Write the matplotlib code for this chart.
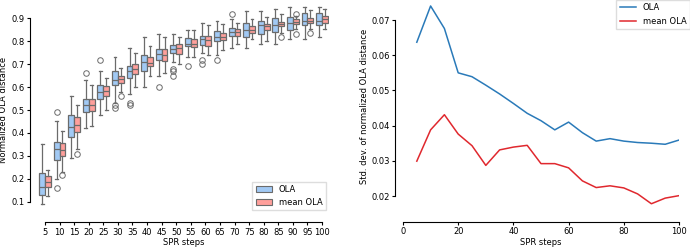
import matplotlib
matplotlib.use("Agg")
import matplotlib.pyplot as plt
import numpy as np

steps = [5, 10, 15, 20, 25, 30, 35, 40, 45, 50, 55, 60, 65, 70, 75, 80, 85, 90, 95, 100]

# box stats: (whislo, q1, med, q3, whishi)
ola_box = [
    (0.09, 0.13, 0.165, 0.225, 0.35), (0.20, 0.28, 0.33, 0.36, 0.45),
    (0.29, 0.38, 0.425, 0.48, 0.56), (0.42, 0.49, 0.52, 0.55, 0.63),
    (0.48, 0.55, 0.58, 0.61, 0.67), (0.53, 0.61, 0.63, 0.67, 0.73),
    (0.57, 0.64, 0.67, 0.69, 0.77), (0.60, 0.67, 0.71, 0.74, 0.82),
    (0.65, 0.72, 0.745, 0.765, 0.83), (0.71, 0.75, 0.765, 0.785, 0.83),
    (0.73, 0.78, 0.79, 0.815, 0.85), (0.75, 0.785, 0.81, 0.825, 0.88),
    (0.74, 0.80, 0.82, 0.845, 0.89), (0.77, 0.825, 0.84, 0.86, 0.895),
    (0.77, 0.82, 0.85, 0.88, 0.93), (0.79, 0.83, 0.87, 0.89, 0.93),
    (0.79, 0.84, 0.87, 0.90, 0.94), (0.81, 0.85, 0.88, 0.905, 0.95),
    (0.81, 0.87, 0.89, 0.925, 0.95), (0.82, 0.87, 0.89, 0.925, 0.95),
]
ola_fliers = [[], [0.49, 0.16], [], [0.66], [0.72], [0.52, 0.51], [0.53, 0.52], [],
              [0.60], [0.68, 0.67, 0.65], [0.69], [0.72, 0.70], [0.72], [0.92],
              [], [], [], [], [], []]
mean_box = [
    (0.125, 0.165, 0.185, 0.21, 0.24), (0.23, 0.30, 0.325, 0.355, 0.41),
    (0.33, 0.405, 0.435, 0.47, 0.52), (0.43, 0.495, 0.52, 0.55, 0.61),
    (0.50, 0.56, 0.585, 0.605, 0.64), (0.58, 0.62, 0.635, 0.65, 0.685),
    (0.60, 0.655, 0.68, 0.70, 0.75), (0.65, 0.69, 0.705, 0.73, 0.78),
    (0.66, 0.715, 0.74, 0.765, 0.82), (0.70, 0.745, 0.77, 0.79, 0.82),
    (0.73, 0.775, 0.79, 0.81, 0.85), (0.74, 0.78, 0.805, 0.825, 0.87),
    (0.76, 0.805, 0.82, 0.835, 0.875), (0.79, 0.825, 0.84, 0.855, 0.88),
    (0.81, 0.835, 0.85, 0.865, 0.895), (0.80, 0.85, 0.865, 0.875, 0.905),
    (0.835, 0.865, 0.875, 0.885, 0.92), (0.855, 0.875, 0.885, 0.895, 0.91),
    (0.855, 0.88, 0.89, 0.90, 0.935), (0.855, 0.88, 0.895, 0.91, 0.94),
]
mean_fliers = [[], [0.215], [0.31], [], [], [0.56], [], [], [], [], [], [], [], [],
               [], [], [0.82], [0.92, 0.83], [0.835], []]

std_ola = [0.0637, 0.0740, 0.0676, 0.0550, 0.0539, 0.0515, 0.0490, 0.0463, 0.0435, 0.0414,
           0.0388, 0.0410, 0.0380, 0.0356, 0.0363, 0.0356, 0.0352, 0.0350, 0.0347, 0.0359]
std_mean = [0.0299, 0.0388, 0.0431, 0.0376, 0.0343, 0.0287, 0.0331, 0.0339, 0.0344, 0.0292,
            0.0292, 0.0280, 0.0243, 0.0224, 0.0229, 0.0223, 0.0206, 0.0178, 0.0194, 0.0201]

FS = 6
plt.rcParams['font.family'] = 'DejaVu Sans'
plt.rcParams['font.size'] = FS

W, H = 690, 247
fig = plt.figure(figsize=(W / 100, H / 100), dpi=100)

def rect(x0, x1, ytop, ybot):
    return [x0 / W, 1 - ybot / H, (x1 - x0) / W, (ybot - ytop) / H]

ax1 = fig.add_axes(rect(37.7, 329.3, 6.2, 213.8))
ax2 = fig.add_axes(rect(403, 679, 0, 213.6))

blue_box = '#a1c9f4'
red_box = '#ff9f9b'
edge = '#6b6b6b'

def mkstats(boxes, fliers):
    out = []
    for (lo, q1, med, q3, hi), fl in zip(boxes, fliers):
        out.append(dict(whislo=lo, q1=q1, med=med, q3=q3, whishi=hi, fliers=fl))
    return out

pos = np.arange(len(steps))
for stats, off, col in [(mkstats(ola_box, ola_fliers), -0.2, blue_box),
                        (mkstats(mean_box, mean_fliers), 0.2, red_box)]:
    ax1.bxp(stats, positions=pos + off, widths=0.4, patch_artist=True,
            boxprops=dict(facecolor=col, edgecolor=edge, linewidth=0.9),
            medianprops=dict(color=edge, linewidth=0.9),
            whiskerprops=dict(color=edge, linewidth=0.9),
            capprops=dict(color=edge, linewidth=0.9),
            flierprops=dict(marker='o', markerfacecolor='none', markeredgecolor=edge,
                            markersize=4, markeredgewidth=0.7),
            capwidths=0.2, manage_ticks=False)

ax1.set_xlim(-0.5, len(steps) - 0.5)
ax1.set_ylim(0.047, 0.953)
ax1.set_xticks(pos)
ax1.set_xticklabels([str(s) for s in steps])
ax1.set_yticks([0.1, 0.2, 0.3, 0.4, 0.5, 0.6, 0.7, 0.8, 0.9])
ax1.set_yticklabels(['0.1', '0.2', '0.3', '0.4', '0.5', '0.6', '0.7', '0.8', '0.9'])
ax1.set_xlabel('SPR steps', fontsize=FS, labelpad=1)
ax1.set_ylabel('Normalized OLA distance', fontsize=FS, labelpad=2)

from matplotlib.patches import Patch
h = [Patch(facecolor=blue_box, edgecolor=edge, linewidth=0.8),
     Patch(facecolor=red_box, edgecolor=edge, linewidth=0.8)]
ax1.legend(h, ['OLA', 'mean OLA'], loc='lower right', fontsize=FS,
           borderaxespad=0.4, handlelength=2.0, handleheight=0.8, framealpha=1,
           edgecolor='#dddddd', fancybox=False)

ax2.plot(steps, std_ola, color='#2a7ab9', linewidth=1.1, label='OLA')
ax2.plot(steps, std_mean, color='#e0282e', linewidth=1.1, label='mean OLA')
ax2.set_xlim(0, 100)
ax2.set_ylim(0.015, 0.0757)
ax2.set_xticks([0, 20, 40, 60, 80, 100])
ax2.set_yticks([0.02, 0.03, 0.04, 0.05, 0.06, 0.07])
ax2.set_yticklabels(['0.02', '0.03', '0.04', '0.05', '0.06', '0.07'])
ax2.set_xlabel('SPR steps', fontsize=FS, labelpad=1)
ax2.set_ylabel('Std. dev. of normalized OLA distance', fontsize=FS, labelpad=2)
ax2.legend(loc='upper right', bbox_to_anchor=(1.0, 1.0), bbox_transform=fig.transFigure,
           fontsize=FS, borderaxespad=0.0, handlelength=2.0, framealpha=1,
           edgecolor='#dddddd', fancybox=False)

for ax in (ax1, ax2):
    for s in ('top', 'right'):
        ax.spines[s].set_visible(False)
    ax.spines['left'].set_position(('outward', 5.5))
    ax.spines['bottom'].set_position(('outward', 6))
    ax.tick_params(labelsize=FS, length=2.5, width=0.8, pad=1.5)
    for s in ('left', 'bottom'):
        ax.spines[s].set_linewidth(0.8)

ax1.spines['left'].set_bounds(0.1, 0.9)
ax1.spines['bottom'].set_bounds(0, len(steps) - 1)
ax2.spines['left'].set_bounds(0.02, 0.07)
ax2.spines['bottom'].set_bounds(0, 100)

fig.savefig('out.png', dpi=100)
